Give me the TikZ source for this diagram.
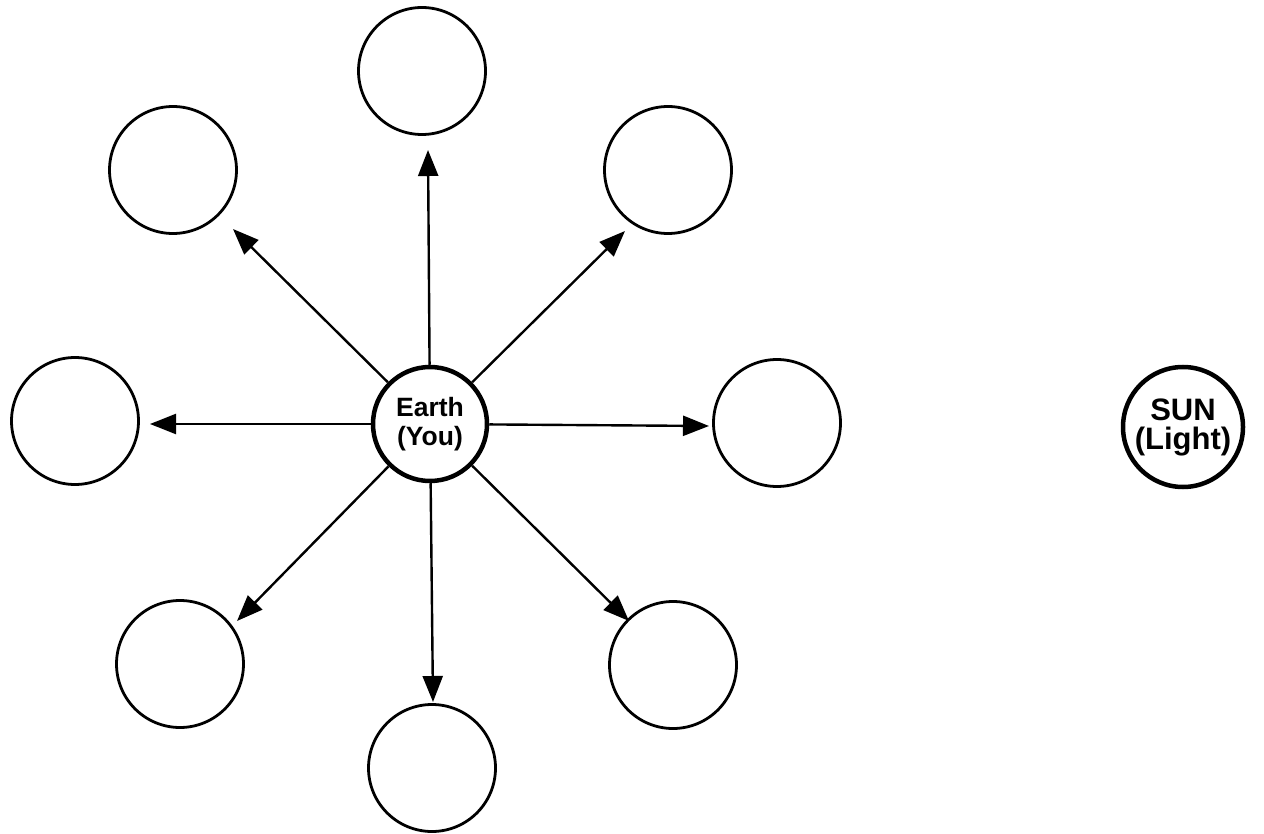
\documentclass[tikz,border=0pt]{standalone}
\usepackage{fontspec}
\setmainfont{Liberation Sans}
\usetikzlibrary{arrows.meta}
\begin{document}
\begin{tikzpicture}[x=1pt,y=-1pt,
  moon/.style={circle,draw,line width=2.8pt,minimum size=127pt,inner sep=0pt},
  body/.style={circle,draw,line width=4.5pt,inner sep=0pt,align=center},
  ray/.style={line width=2.4pt,-{Triangle[length=26pt,width=20pt]}}]
\useasboundingbox (0,0) rectangle (1264,834);
\node[body,minimum size=114pt,font=\bfseries\fontsize{26.5}{29}\selectfont] (earth) at (430,424) {Earth\\(You)};
\node[body,minimum size=120pt,font=\bfseries\fontsize{31}{29}\selectfont] (sun) at (1183,427) {SUN\\(Light)};
\node[moon] (mT)  at (422,71) {};
\node[moon] (mTL) at (173,170) {};
\node[moon] (mTR) at (668,170) {};
\node[moon] (mL)  at (75,421) {};
\node[moon] (mR)  at (777,423) {};
\node[moon] (mBL) at (180,664) {};
\node[moon] (mB)  at (432,768) {};
\node[moon] (mBR) at (673,665) {};
\coordinate (tT)  at (428,150);
\coordinate (tTL) at (233,229);
\coordinate (tTR) at (625,231);
\coordinate (tL)  at (150,424);
\coordinate (tR)  at (709,426);
\coordinate (tBL) at (237,621);
\coordinate (tB)  at (433,702);
\coordinate (tBR) at (629,621);
\foreach \t in {tT,tTL,tTR,tL,tR,tBL,tB,tBR}
  \draw[ray] (earth) -- (\t);
\end{tikzpicture}
\end{document}
